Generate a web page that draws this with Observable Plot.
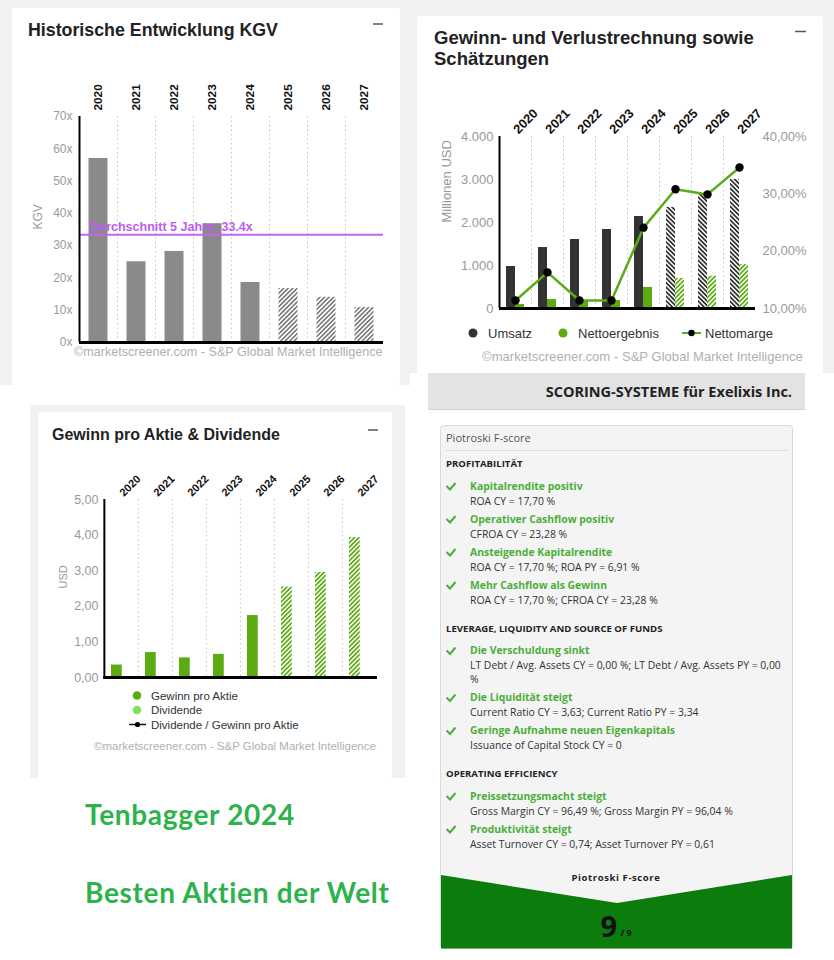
<!DOCTYPE html>
<html><head><meta charset="utf-8">
<script src="https://cdn.jsdelivr.net/npm/d3@7"></script>
<script src="https://cdn.jsdelivr.net/npm/@observablehq/plot@0.6"></script>
<style>
html,body{margin:0;padding:0}
body{width:834px;height:960px;position:relative;background:#fff;overflow:hidden}
.chart{position:absolute}
#bg{position:absolute;left:0;top:0}
</style></head><body>
<svg id="bg" width="834" height="960">
<defs>
 <pattern id="hatchGray" patternUnits="userSpaceOnUse" width="3.2" height="3.2" patternTransform="rotate(45)"><rect width="3.2" height="3.2" fill="#fff"/><rect width="1.6" height="3.2" fill="#7a7a7a"/></pattern>
 <pattern id="hatchDark" patternUnits="userSpaceOnUse" width="3.2" height="3.2" patternTransform="rotate(-45)"><rect width="3.2" height="3.2" fill="#fff"/><rect width="1.7" height="3.2" fill="#2e2e2e"/></pattern>
 <pattern id="hatchGreen" patternUnits="userSpaceOnUse" width="3.2" height="3.2" patternTransform="rotate(45)"><rect width="3.2" height="3.2" fill="#fff"/><rect width="1.7" height="3.2" fill="#5aac12"/></pattern>
</defs>
</svg>
<div id="c1" class="chart" style="left:12px;top:70px;width:388px"></div>
<div id="c2" class="chart" style="left:417px;top:80px;width:406px"></div>
<div id="c3" class="chart" style="left:38px;top:450px;width:354px"></div>
<script>
// ---------- data ----------
const years = ["2020","2021","2022","2023","2024","2025","2026","2027"];
const estimateYears = ["2025","2026","2027"];
const kgvValues = [57, 25, 28.2, 36.8, 18.6, 16.7, 14, 10.8];
const kgvAverage = 33.4;
const kgvTicks = [0,10,20,30,40,50,60,70];
const umsatz = [977, 1418, 1605, 1837, 2140, 2350, 2650, 3000];
const nettoergebnis = [95, 210, 180, 185, 490, 700, 750, 1020];
const nettomarge = [11.4, 16.3, 11.4, 11.4, 24.1, 30.8, 29.9, 34.6];
const guvTicks = [0,1000,2000,3000,4000];
const margeTicks = [10,20,30,40];
const eps = [0.35, 0.70, 0.55, 0.65, 1.74, 2.54, 2.95, 3.93];
const epsTicks = [0,1,2,3,4,5];
const scoreSections = [
  {header:"PROFITABILITÄT", items:[
    ["Kapitalrendite positiv", ["ROA CY = 17,70 %"]],
    ["Operativer Cashflow positiv", ["CFROA CY = 23,28 %"]],
    ["Ansteigende Kapitalrendite", ["ROA CY = 17,70 %; ROA PY = 6,91 %"]],
    ["Mehr Cashflow als Gewinn", ["ROA CY = 17,70 %; CFROA CY = 23,28 %"]]]},
  {header:"LEVERAGE, LIQUIDITY AND SOURCE OF FUNDS", items:[
    ["Die Verschuldung sinkt", ["LT Debt / Avg. Assets CY = 0,00 %; LT Debt / Avg. Assets PY = 0,00", "%"]],
    ["Die Liquidität steigt", ["Current Ratio CY = 3,63; Current Ratio PY = 3,34"]],
    ["Geringe Aufnahme neuen Eigenkapitals", ["Issuance of Capital Stock CY = 0"]]]},
  {header:"OPERATING EFFICIENCY", items:[
    ["Preissetzungsmacht steigt", ["Gross Margin CY = 96,49 %; Gross Margin PY = 96,04 %"]],
    ["Produktivität steigt", ["Asset Turnover CY = 0,74; Asset Turnover PY = 0,61"]]]}
];
const fScore = 9, fScoreMax = 9;

const FONT = "'Liberation Sans', Arial, sans-serif";
const OPEN = "'Open Sans', sans-serif";
const caption = "©marketscreener.com - S&P Global Market Intelligence";

// ---------- background / panels ----------
const bg = d3.select("#bg");
function R(x,y,w,h,fill,extra={}){const r=bg.append("rect").attr("x",x).attr("y",y).attr("width",w).attr("height",h).attr("fill",fill);for(const k in extra)r.attr(k,extra[k]);return r;}
function T(x,y,s,o={}){const t=bg.append("text").attr("x",x).attr("y",y).text(s)
  .attr("font-family",o.family||FONT).attr("font-size",o.size||12).attr("fill",o.fill||"#333");
  if(o.weight)t.attr("font-weight",o.weight); if(o.anchor)t.attr("text-anchor",o.anchor);
  if(o.ls)t.attr("letter-spacing",o.ls); if(o.rotate)t.attr("transform",`rotate(${o.rotate},${x},${y})`); return t;}
function L(x1,y1,x2,y2,stroke,w){return bg.append("line").attr("x1",x1).attr("y1",y1).attr("x2",x2).attr("y2",y2).attr("stroke",stroke).attr("stroke-width",w);}

R(0,0,410,385,"#f1f1f1");
R(410,0,424,373,"#f1f1f1");
R(12,8,388,377,"#fff",{rx:3});
R(417,16,406,357,"#fff",{rx:3});
R(30,405,375,373,"#f1f1f1");
R(38,412,354,366,"#fff",{rx:2});
R(428,373,377,37,"#e3e3e3");
L(428,409.5,805,409.5,"#d2d2d2",1);

// titles & dashes
T(28,36,"Historische Entwicklung KGV",{size:17.8,weight:"bold",fill:"#222"});
L(373,24,383,24,"#555",1.5);
T(434,43.5,"Gewinn- und Verlustrechnung sowie",{size:18.5,weight:"bold",fill:"#222"});
T(434,65,"Schätzungen",{size:18.5,weight:"bold",fill:"#222"});
L(795,31.5,806,31.5,"#555",1.5);
T(52,440,"Gewinn pro Aktie & Dividende",{size:16,weight:"bold",fill:"#222"});
L(368,430,378,430,"#555",1.5);

// captions
T(74,356,caption,{size:12.6,fill:"#b0b0b0"});
T(482,361,caption,{size:13.1,fill:"#b0b0b0"});
T(94,750,caption,{size:11.5,fill:"#b0b0b0"});

// legend top-right
bg.append("circle").attr("cx",473).attr("cy",333).attr("r",4.5).attr("fill","#333");
T(488,337.5,"Umsatz",{size:13,fill:"#333"});
bg.append("circle").attr("cx",563).attr("cy",333).attr("r",4.5).attr("fill","#5aac12");
T(578,337.5,"Nettoergebnis",{size:13,fill:"#333"});
L(682,333,701,333,"#5aac1a",2);
bg.append("circle").attr("cx",691.5).attr("cy",333).attr("r",3.2).attr("fill","#000");
T(705,337.5,"Nettomarge",{size:13,fill:"#333"});

// legend bottom-left
bg.append("circle").attr("cx",137).attr("cy",695.5).attr("r",4.3).attr("fill","#5aac12");
T(151,699.5,"Gewinn pro Aktie",{size:11.5,fill:"#333"});
bg.append("circle").attr("cx",137).attr("cy",710).attr("r",4.3).attr("fill","#7fe35c");
T(151,714,"Dividende",{size:11.5,fill:"#333"});
L(129,724.5,146,724.5,"#111",1.5);
bg.append("circle").attr("cx",137.5).attr("cy",724.5).attr("r",2.6).attr("fill","#000");
T(151,728.5,"Dividende / Gewinn pro Aktie",{size:11.5,fill:"#333"});

// scoring header
T(792,397,"SCORING-SYSTEME für Exelixis Inc.",{family:OPEN,size:14.5,weight:"bold",fill:"#222",anchor:"end"});

// card
R(440.5,425.5,352,523,"#f4f4f4",{stroke:"#dadada","stroke-width":1,rx:3});
T(446,442,"Piotroski F-score",{family:OPEN,size:11,fill:"#555"});
L(446,450.5,787,450.5,"#dcdcdc",1);
let cy = 467;
scoreSections.forEach((sec,si)=>{
  if(si>0) cy += 28;
  T(446,cy,sec.header,{family:OPEN,size:9.6,weight:"bold",fill:"#222"});
  cy += 22.5;
  sec.items.forEach((it,ii)=>{
    if(ii>0) cy += 18;
    bg.append("path").attr("d",`M446.5,${cy-3.5} L450,${cy} L455.5,${cy-6.5}`).attr("fill","none").attr("stroke","#4cae3a").attr("stroke-width",2);
    T(470,cy,it[0],{family:OPEN,size:10.4,weight:"bold",fill:"#4cae3a"});
    cy += 15;
    it[1].forEach((line,li)=>{ if(li>0) cy += 14; T(470,cy,line,{family:OPEN,size:10.4,fill:"#333"}); });
  });
});
bg.append("polygon").attr("points","441,875 617,903 792,875 792,948.5 441,948.5").attr("fill","#0c7c0c");
T(616,880.5,"Piotroski F-score",{family:OPEN,size:9.5,weight:"bold",fill:"#222",anchor:"middle",ls:0.6});
T(617,937,String(fScore),{family:OPEN,size:29,weight:"bold",fill:"#111",anchor:"end"});
T(620.5,936,"/ "+fScoreMax,{family:OPEN,size:9,weight:"bold",fill:"#111"});

// promo text
T(85,825,"Tenbagger 2024",{family:"Lato, 'Open Sans', sans-serif",size:28,weight:"bold",fill:"#2eb24c",ls:0.7});
T(85,903,"Besten Aktien der Welt",{family:"Lato, 'Open Sans', sans-serif",size:28,weight:"bold",fill:"#2eb24c",ls:0.7});

// ---------- chart 1: KGV ----------
const w1=388,h1=300,ml1=67,mr1=17,mt1=46,mb1=28;
const bw1=(w1-ml1-mr1)/years.length;
const kgvRows = years.map((y,i)=>({year:y,value:kgvValues[i],est:estimateYears.includes(y)}));
const c1 = Plot.plot({
  width:w1,height:h1,marginLeft:ml1,marginRight:mr1,marginTop:mt1,marginBottom:mb1,
  style:{background:"transparent",fontFamily:FONT,fontSize:"12px",overflow:"visible"},
  x:{type:"band",domain:years,padding:0,axis:null},
  y:{domain:[0,70],axis:null},
  marks:[
    Plot.ruleX(years.slice(1),{x:d=>d,dx:-bw1/2,stroke:"#c4c4c4",strokeDasharray:"1.5,3"}),
    Plot.barY(kgvRows.filter(d=>!d.est),{x:"year",y:"value",fill:"#8a8a8a",insetLeft:9.5,insetRight:9.5}),
    Plot.barY(kgvRows.filter(d=>d.est),{x:"year",y:"value",fill:"url(#hatchGray)",insetLeft:9.5,insetRight:9.5}),
    Plot.ruleY([kgvAverage],{stroke:"#c264f0",strokeWidth:2}),
    Plot.text([kgvAverage],{y:d=>d,frameAnchor:"left",dx:10,dy:-8,text:d=>`Durchschnitt 5 Jahre: ${d}x`,fill:"#c05cf0",fontWeight:"bold",fontSize:12.5,textAnchor:"start"}),
    Plot.ruleY([0],{stroke:"#000",strokeWidth:3}),
    Plot.ruleX([years[0]],{x:d=>d,dx:-bw1/2,stroke:"#000",strokeWidth:2}),
    Plot.axisY({ticks:kgvTicks,tickFormat:d=>d+"x",tickSize:0,tickPadding:7,fontSize:12,fill:"#9a9a9a",label:null}),
    Plot.axisX({anchor:"top",tickSize:0,tickPadding:6,tickRotate:-90,fontSize:11.8,fontWeight:"bold",fill:"#111",label:null,textAnchor:"start",lineAnchor:"middle"}),
    Plot.text(["KGV"],{text:d=>d,frameAnchor:"left",dx:-41,rotate:-90,fontSize:12,fill:"#9a9a9a"})
  ]
});
document.getElementById("c1").append(c1);

// ---------- chart 2: GuV ----------
const w2=406,h2=245,ml2=82,mr2=68,mt2=56,mb2=17;
const bw2=(w2-ml2-mr2)/years.length;
const toLeft = m => (m-10)/30*4000;
const fromLeft = v => v/4000*30+10;
const guvRows = years.map((y,i)=>({year:y,umsatz:umsatz[i],netto:nettoergebnis[i],marge:nettomarge[i],est:estimateYears.includes(y)}));
const deNum = d => d3.format(",")(d).replace(/,/g,".");
const c2 = Plot.plot({
  width:w2,height:h2,marginLeft:ml2,marginRight:mr2,marginTop:mt2,marginBottom:mb2,
  style:{background:"transparent",fontFamily:FONT,fontSize:"13px",overflow:"visible"},
  x:{type:"band",domain:years,padding:0,axis:null},
  y:{domain:[0,4000],axis:null},
  marks:[
    Plot.ruleX(years.slice(1),{x:d=>d,dx:-bw2/2,stroke:"#c4c4c4",strokeDasharray:"1.5,3"}),
    Plot.barY(guvRows.filter(d=>!d.est),{x:"year",y:"umsatz",fill:"#333",insetLeft:7,insetRight:16}),
    Plot.barY(guvRows.filter(d=>d.est),{x:"year",y:"umsatz",fill:"url(#hatchDark)",insetLeft:7,insetRight:16}),
    Plot.barY(guvRows.filter(d=>!d.est),{x:"year",y:"netto",fill:"#5aac12",insetLeft:16,insetRight:7}),
    Plot.barY(guvRows.filter(d=>d.est),{x:"year",y:"netto",fill:"url(#hatchGreen)",insetLeft:16,insetRight:7}),
    Plot.ruleY([0],{stroke:"#000",strokeWidth:3}),
    Plot.ruleX([years[0]],{x:d=>d,dx:-bw2/2,stroke:"#000",strokeWidth:2}),
    Plot.line(guvRows,{x:"year",y:d=>toLeft(d.marge),stroke:"#5aac1a",strokeWidth:2.5}),
    Plot.dot(guvRows,{x:"year",y:d=>toLeft(d.marge),r:4.2,fill:"#000"}),
    Plot.axisY({ticks:guvTicks,tickFormat:deNum,tickSize:0,tickPadding:6,fontSize:13,fill:"#999",label:null}),
    Plot.axisY({anchor:"right",ticks:margeTicks.map(toLeft),tickFormat:v=>fromLeft(v).toFixed(2).replace(".",",")+"%",tickSize:0,tickPadding:7,fontSize:13,fill:"#999",label:null}),
    Plot.axisX({anchor:"top",tickSize:0,tickPadding:5,tickRotate:-45,fontSize:12.8,fontWeight:"bold",fill:"#111",label:null,textAnchor:"start",lineAnchor:"middle"}),
    Plot.text(["Millionen USD"],{text:d=>d,frameAnchor:"left",dx:-53,rotate:-90,fontSize:13,fill:"#999"})
  ]
});
document.getElementById("c2").append(c2);

// ---------- chart 3: EPS ----------
const w3=354,h3=240,ml3=65,mr3=15,mt3=49,mb3=13;
const bw3=(w3-ml3-mr3)/years.length;
const epsRows = years.map((y,i)=>({year:y,value:eps[i],est:estimateYears.includes(y)}));
const c3 = Plot.plot({
  width:w3,height:h3,marginLeft:ml3,marginRight:mr3,marginTop:mt3,marginBottom:mb3,
  style:{background:"transparent",fontFamily:FONT,fontSize:"12px",overflow:"visible"},
  x:{type:"band",domain:years,padding:0,axis:null},
  y:{domain:[0,5],axis:null},
  marks:[
    Plot.ruleX(years.slice(1),{x:d=>d,dx:-bw3/2,stroke:"#c4c4c4",strokeDasharray:"1.5,3"}),
    Plot.barY(epsRows.filter(d=>!d.est),{x:"year",y:"value",fill:"#5aac12",insetLeft:7,insetRight:16.25}),
    Plot.barY(epsRows.filter(d=>d.est),{x:"year",y:"value",fill:"url(#hatchGreen)",insetLeft:7,insetRight:16.25}),
    Plot.ruleY([0],{stroke:"#000",strokeWidth:3}),
    Plot.ruleX([years[0]],{x:d=>d,dx:-bw3/2,stroke:"#000",strokeWidth:2}),
    Plot.axisY({ticks:epsTicks,tickFormat:d=>d.toFixed(2).replace(".",","),tickSize:0,tickPadding:5,fontSize:12.5,fill:"#999",label:null}),
    Plot.axisX({anchor:"top",tickSize:0,tickPadding:5,tickRotate:-45,fontSize:11,fontWeight:"bold",fill:"#111",label:null,textAnchor:"start",lineAnchor:"middle"}),
    Plot.text(["USD"],{text:d=>d,frameAnchor:"left",dx:-40,rotate:-90,fontSize:11,fill:"#999"})
  ]
});
document.getElementById("c3").append(c3);
</script>
</body></html>
